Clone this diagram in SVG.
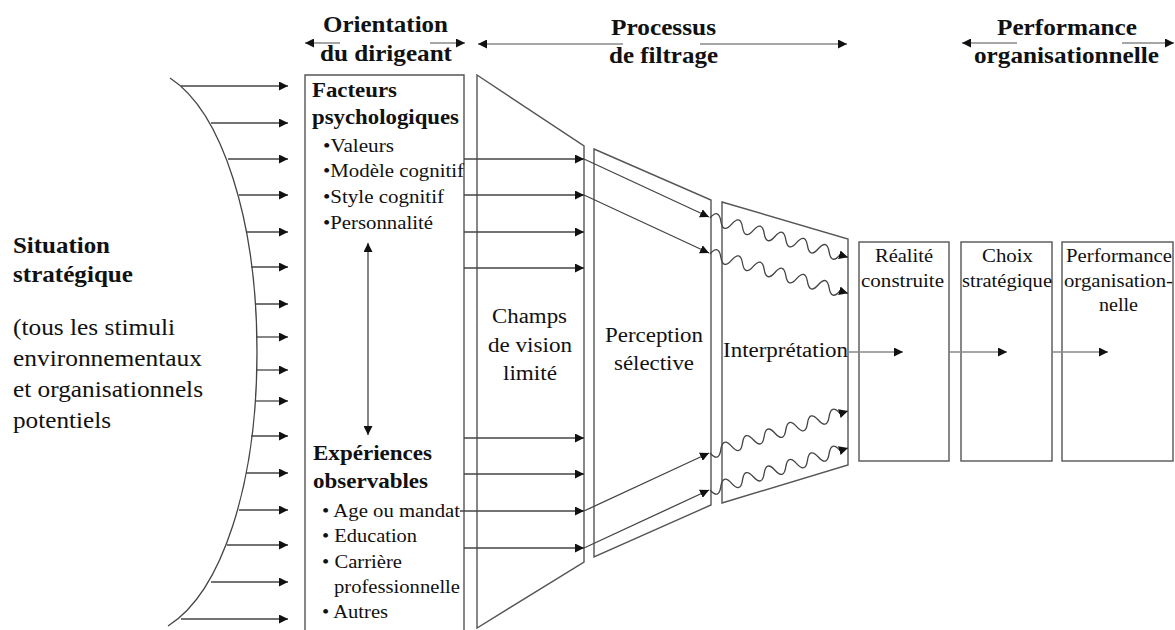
<svg xmlns="http://www.w3.org/2000/svg" width="1175" height="630" viewBox="0 0 1175 630">
<defs>
<marker id="ah" markerUnits="userSpaceOnUse" markerWidth="9" markerHeight="9" viewBox="0 0 9 9" refX="9" refY="4.5" orient="auto-start-reverse"><path d="M0,0L9,4.5L0,9z" fill="#111"/></marker>
<path id="waveDown" d="M0,0 q8.7,-9.9 10.83,3.08 t10.83,3.08 t10.83,3.08 t10.83,3.08 t10.83,3.08 t10.83,3.08 t10.83,3.08 t10.83,3.08 t10.83,3.08 t10.83,3.08 t10.83,3.08 t10.83,3.08 l8,2.3"/>
<path id="waveUp" d="M0,0 q8.9,9.8 10.83,-3.3 t10.83,-3.3 t10.83,-3.3 t10.83,-3.3 t10.83,-3.3 t10.83,-3.3 t10.83,-3.3 t10.83,-3.3 t10.83,-3.3 t10.83,-3.3 t10.83,-3.3 t10.83,-3.3 l8,-2.4"/>
</defs>
<style>
.box{fill:none;stroke:#555;stroke-width:1.4}
.ln{fill:none;stroke:#444;stroke-width:1.3}
.hl{fill:none;stroke:#888;stroke-width:1.4}
.wv{fill:none;stroke:#444;stroke-width:1.3}
text{font-family:'Liberation Serif','Times New Roman',Times,serif;fill:#111}
.hd{font-weight:bold;font-size:23.5px}
.sb{font-weight:bold;font-size:24px}
.bd{font-weight:bold;font-size:20px}
.lt{font-size:23.5px}
.tx{font-size:18px}
.fx{font-size:20px}
</style>
<rect width="1175" height="630" fill="#fff"/>

<g id="headers">
<text class="hd" x="323" y="32" textLength="125" lengthAdjust="spacingAndGlyphs">Orientation</text>
<text class="hd" x="320" y="61" textLength="132" lengthAdjust="spacingAndGlyphs">du dirigeant</text>
<text class="hd" x="611" y="35" textLength="105" lengthAdjust="spacingAndGlyphs">Processus</text>
<text class="hd" x="609" y="63" textLength="109" lengthAdjust="spacingAndGlyphs">de filtrage</text>
<text class="hd" x="997" y="35" textLength="140" lengthAdjust="spacingAndGlyphs">Performance</text>
<text class="hd" x="974" y="63" textLength="185" lengthAdjust="spacingAndGlyphs">organisationnelle</text>
</g>

<g id="situation">
<path class="ln" d="M170,78 C222,112 257,220 257,352 C257,484 222,592 168,626"/>
<text class="sb" x="13" y="253" textLength="97" lengthAdjust="spacingAndGlyphs">Situation</text>
<text class="sb" x="13" y="282" textLength="120" lengthAdjust="spacingAndGlyphs">stratégique</text>
<text class="lt" x="13" y="335" textLength="162" lengthAdjust="spacingAndGlyphs">(tous les stimuli</text>
<text class="lt" x="13" y="366" textLength="189" lengthAdjust="spacingAndGlyphs">environnementaux</text>
<text class="lt" x="13" y="397" textLength="190" lengthAdjust="spacingAndGlyphs">et organisationnels</text>
<text class="lt" x="13" y="428" textLength="98" lengthAdjust="spacingAndGlyphs">potentiels</text>
</g>

<g id="orientation">
<path class="box" d="M305,640 V75 H464 V640"/>
<text class="bd" x="312" y="97" textLength="85" lengthAdjust="spacingAndGlyphs">Facteurs</text>
<text class="bd" x="312" y="124" textLength="147" lengthAdjust="spacingAndGlyphs">psychologiques</text>
<text class="tx" x="323" y="152" textLength="71" lengthAdjust="spacingAndGlyphs">•Valeurs</text>
<text class="tx" x="323" y="177" textLength="141" lengthAdjust="spacingAndGlyphs">•Modèle cognitif</text>
<text class="tx" x="323" y="203" textLength="121" lengthAdjust="spacingAndGlyphs">•Style cognitif</text>
<text class="tx" x="323" y="229" textLength="110" lengthAdjust="spacingAndGlyphs">•Personnalité</text>
<text class="bd" x="313" y="460" textLength="119" lengthAdjust="spacingAndGlyphs">Expériences</text>
<text class="bd" x="313" y="488" textLength="115" lengthAdjust="spacingAndGlyphs">observables</text>
<text class="tx" x="322" y="517" textLength="138" lengthAdjust="spacingAndGlyphs">• Age ou mandat</text>
<text class="tx" x="322" y="542" textLength="95" lengthAdjust="spacingAndGlyphs">• Education</text>
<text class="tx" x="322" y="568" textLength="80" lengthAdjust="spacingAndGlyphs">• Carrière</text>
<text class="tx" x="334" y="593" textLength="126" lengthAdjust="spacingAndGlyphs">professionnelle</text>
<text class="tx" x="322" y="618" textLength="66" lengthAdjust="spacingAndGlyphs">• Autres</text>
</g>

<g id="champs">
<polygon class="box" points="477,75 584,146 584,562 477,628"/>
<text class="fx" x="492" y="323" textLength="75" lengthAdjust="spacingAndGlyphs">Champs</text>
<text class="fx" x="488" y="352" textLength="84" lengthAdjust="spacingAndGlyphs">de vision</text>
<text class="fx" x="503" y="380" textLength="54" lengthAdjust="spacingAndGlyphs">limité</text>
</g>

<g id="perception">
<polygon class="box" points="594,149 711,200 711,505 594,557"/>
<text class="fx" x="605" y="342" textLength="98" lengthAdjust="spacingAndGlyphs">Perception</text>
<text class="fx" x="614" y="370" textLength="80" lengthAdjust="spacingAndGlyphs">sélective</text>
</g>

<g id="interpretation">
<polygon class="box" points="722,202 848,239 848,465 722,503"/>
<text class="fx" x="723" y="357" textLength="125" lengthAdjust="spacingAndGlyphs">Interprétation</text>
</g>

<g id="realite">
<rect class="box" x="859" y="242" width="90" height="219"/>
<text class="tx" x="875" y="262" textLength="58" lengthAdjust="spacingAndGlyphs">Réalité</text>
<text class="tx" x="861" y="287" textLength="83" lengthAdjust="spacingAndGlyphs">construite</text>
</g>

<g id="choix">
<rect class="box" x="961" y="242" width="91" height="219"/>
<text class="tx" x="982" y="262" textLength="51" lengthAdjust="spacingAndGlyphs">Choix</text>
<text class="tx" x="962" y="287" textLength="90" lengthAdjust="spacingAndGlyphs">stratégique</text>
</g>

<g id="performance">
<rect class="box" x="1062" y="242" width="111" height="219"/>
<text class="tx" x="1066" y="262" textLength="106" lengthAdjust="spacingAndGlyphs">Performance</text>
<text class="tx" x="1064" y="287" textLength="109" lengthAdjust="spacingAndGlyphs">organisation-</text>
<text class="tx" x="1099" y="311" textLength="39" lengthAdjust="spacingAndGlyphs">nelle</text>
</g>

<g id="connectors" marker-end="url(#ah)">
<path class="hl" d="M340,43H305"/>
<path class="hl" d="M430,43H465"/>
<path class="hl" d="M623,44H478"/>
<path class="hl" d="M700,44H847"/>
<path class="hl" d="M1017,43H962"/>
<path class="hl" d="M1122,43H1174"/>

<path class="ln" d="M181,86H288"/>
<path class="ln" d="M211,123H288"/>
<path class="ln" d="M228,159H288"/>
<path class="ln" d="M239,195H288"/>
<path class="ln" d="M246,232H288"/>
<path class="ln" d="M251,267H288"/>
<path class="ln" d="M255,304H288"/>
<path class="ln" d="M256,337H288"/>
<path class="ln" d="M256,370H288"/>
<path class="ln" d="M256,401H288"/>
<path class="ln" d="M251,436H288"/>
<path class="ln" d="M246,473H288"/>
<path class="ln" d="M239,510H288"/>
<path class="ln" d="M227,545H288"/>
<path class="ln" d="M211,582H288"/>
<path class="ln" d="M181,619H288"/>

<path class="ln" d="M368,435V243" marker-start="url(#ah)"/>

<path class="ln" d="M464,159H584"/>
<path class="ln" d="M464,195H584"/>
<path class="ln" d="M464,232H584"/>
<path class="ln" d="M464,268H584"/>
<path class="ln" d="M464,438H584"/>
<path class="ln" d="M464,474H584"/>
<path class="ln" d="M460,511H584"/>
<path class="ln" d="M464,548H584"/>

<path class="ln" d="M584,159L709,217"/>
<path class="ln" d="M584,195L709,253"/>
<path class="ln" d="M584,511L709,453"/>
<path class="ln" d="M584,548L709,490"/>

<use href="#waveDown" class="wv" transform="translate(710,218)"/>
<use href="#waveDown" class="wv" transform="translate(710,254)"/>
<use href="#waveUp" class="wv" transform="translate(710,453)"/>
<use href="#waveUp" class="wv" transform="translate(710,490)"/>

<path class="hl" d="M848,352H903"/>
<path class="hl" d="M949,352H1007"/>
<path class="hl" d="M1052,352H1108"/>
</g>
</svg>
